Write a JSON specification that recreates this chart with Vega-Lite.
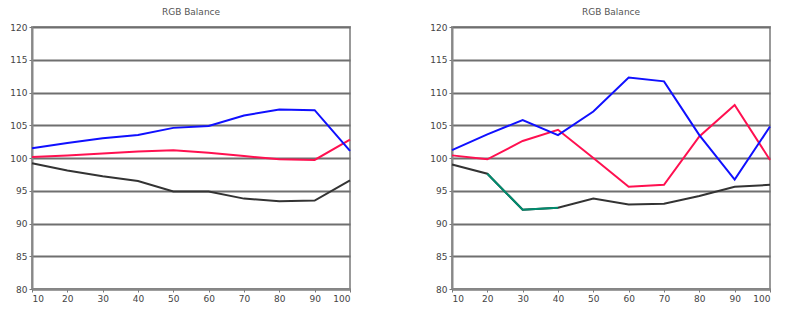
{
  "$schema": "https://vega.github.io/schema/vega-lite/v6.json",
  "padding": {"left": 8, "top": 7, "right": 5, "bottom": 5},
  "spacing": 102,
  "bounds": "flush",
  "datasets": {
    "left": [
      {"level": 10, "channel": "R", "value": 100.15},
      {"level": 20, "channel": "R", "value": 100.4},
      {"level": 30, "channel": "R", "value": 100.7},
      {"level": 40, "channel": "R", "value": 101.0},
      {"level": 50, "channel": "R", "value": 101.2},
      {"level": 60, "channel": "R", "value": 100.8},
      {"level": 70, "channel": "R", "value": 100.3},
      {"level": 80, "channel": "R", "value": 99.8},
      {"level": 90, "channel": "R", "value": 99.7},
      {"level": 100, "channel": "R", "value": 102.8},
      {"level": 10, "channel": "G", "value": 99.2},
      {"level": 20, "channel": "G", "value": 98.1},
      {"level": 30, "channel": "G", "value": 97.2},
      {"level": 40, "channel": "G", "value": 96.5},
      {"level": 50, "channel": "G", "value": 94.9},
      {"level": 60, "channel": "G", "value": 94.9},
      {"level": 70, "channel": "G", "value": 93.8},
      {"level": 80, "channel": "G", "value": 93.4},
      {"level": 90, "channel": "G", "value": 93.5},
      {"level": 100, "channel": "G", "value": 96.6},
      {"level": 10, "channel": "B", "value": 101.5},
      {"level": 20, "channel": "B", "value": 102.3},
      {"level": 30, "channel": "B", "value": 103.0},
      {"level": 40, "channel": "B", "value": 103.5},
      {"level": 50, "channel": "B", "value": 104.6},
      {"level": 60, "channel": "B", "value": 104.9},
      {"level": 70, "channel": "B", "value": 106.5},
      {"level": 80, "channel": "B", "value": 107.4},
      {"level": 90, "channel": "B", "value": 107.3},
      {"level": 100, "channel": "B", "value": 101.1}
    ],
    "right": [
      {"level": 10, "channel": "R", "value": 100.4},
      {"level": 20, "channel": "R", "value": 99.8},
      {"level": 30, "channel": "R", "value": 102.6},
      {"level": 40, "channel": "R", "value": 104.3},
      {"level": 50, "channel": "R", "value": 100.0},
      {"level": 60, "channel": "R", "value": 95.6},
      {"level": 70, "channel": "R", "value": 95.9},
      {"level": 80, "channel": "R", "value": 103.3},
      {"level": 90, "channel": "R", "value": 108.1},
      {"level": 100, "channel": "R", "value": 99.7},
      {"level": 10, "channel": "G", "value": 99.0},
      {"level": 20, "channel": "G", "value": 97.6},
      {"level": 30, "channel": "G", "value": 92.1},
      {"level": 40, "channel": "G", "value": 92.4},
      {"level": 50, "channel": "G", "value": 93.8},
      {"level": 60, "channel": "G", "value": 92.9},
      {"level": 70, "channel": "G", "value": 93.0},
      {"level": 80, "channel": "G", "value": 94.2},
      {"level": 90, "channel": "G", "value": 95.6},
      {"level": 100, "channel": "G", "value": 95.9},
      {"level": 20, "channel": "Gt", "value": 97.6},
      {"level": 30, "channel": "Gt", "value": 92.1},
      {"level": 40, "channel": "Gt", "value": 92.4},
      {"level": 10, "channel": "B", "value": 101.2},
      {"level": 20, "channel": "B", "value": 103.6},
      {"level": 30, "channel": "B", "value": 105.8},
      {"level": 40, "channel": "B", "value": 103.5},
      {"level": 50, "channel": "B", "value": 107.1},
      {"level": 60, "channel": "B", "value": 112.3},
      {"level": 70, "channel": "B", "value": 111.7},
      {"level": 80, "channel": "B", "value": 103.5},
      {"level": 90, "channel": "B", "value": 96.7},
      {"level": 100, "channel": "B", "value": 104.8}
    ]
  },
  "config": {
    "view": {"stroke": "#999999", "strokeWidth": 2},
    "axis": {
      "labelFont": "DejaVu Sans",
      "labelFontSize": 9,
      "labelColor": "#444444",
      "tickColor": "#777777",
      "tickSize": 3,
      "domainColor": "#888888",
      "domainWidth": 2,
      "gridColor": "#6f6f6f",
      "gridWidth": 2,
      "title": null
    },
    "title": {"font": "DejaVu Sans", "fontSize": 9, "fontWeight": "normal", "color": "#555555", "offset": 6}
  },
  "hconcat": [
    {
      "width": 318,
      "height": 262,
      "title": "RGB Balance",
      "data": {"name": "left"},
      "mark": {"type": "line", "strokeWidth": 2},
      "encoding": {
        "x": {"field": "level", "type": "quantitative", "scale": {"domain": [10, 100]}, "axis": {"values": [10, 20, 30, 40, 50, 60, 70, 80, 90, 100], "grid": false}},
        "y": {"field": "value", "type": "quantitative", "scale": {"domain": [80, 120]}, "axis": {"values": [80, 85, 90, 95, 100, 105, 110, 115, 120], "grid": true}},
        "color": {"field": "channel", "type": "nominal", "scale": {"domain": ["R", "G", "Gt", "B"], "range": ["#ff1050", "#333333", "#008c6e", "#1010ff"]}, "legend": null}
      }
    },
    {
      "width": 318,
      "height": 262,
      "title": "RGB Balance",
      "data": {"name": "right"},
      "mark": {"type": "line", "strokeWidth": 2},
      "encoding": {
        "x": {"field": "level", "type": "quantitative", "scale": {"domain": [10, 100]}, "axis": {"values": [10, 20, 30, 40, 50, 60, 70, 80, 90, 100], "grid": false}},
        "y": {"field": "value", "type": "quantitative", "scale": {"domain": [80, 120]}, "axis": {"values": [80, 85, 90, 95, 100, 105, 110, 115, 120], "grid": true}},
        "color": {"field": "channel", "type": "nominal", "scale": {"domain": ["R", "G", "Gt", "B"], "range": ["#ff1050", "#333333", "#008c6e", "#1010ff"]}, "legend": null}
      }
    }
  ]
}
